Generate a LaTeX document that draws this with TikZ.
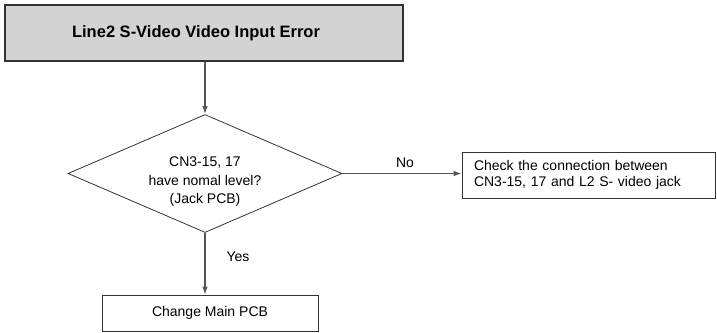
\documentclass[tikz,border=0pt]{standalone}
\usepackage{fontspec}
\setmainfont{Liberation Sans}
\usetikzlibrary{shapes.geometric,arrows.meta}
\definecolor{titlefill}{HTML}{D3D3D3}
\definecolor{edge}{HTML}{333333}
\definecolor{conn}{HTML}{555555}
\begin{document}
\begin{tikzpicture}[x=1pt,y=-1pt,
  titlebox/.style={draw=edge,line width=2pt,fill=titlefill,minimum width=398pt,minimum height=56pt,inner sep=0pt},
  plainbox/.style={draw=edge,line width=0.8pt,inner sep=0pt},
  decision/.style={draw=edge,line width=0.8pt,shape=diamond,minimum width=274pt,minimum height=118pt,inner sep=0pt,aspect=2.32},
  txt/.style={font=\fontsize{14}{18.5}\selectfont,align=center,inner sep=0pt},
  lbl/.style={font=\fontsize{14}{17}\selectfont,inner sep=0pt},
  flow/.style={draw=conn,line width=1.1pt,-{Latex[length=8pt,width=5.5pt]}}
]
\useasboundingbox (0,0) rectangle (717,332);
\node[titlebox] (title) at (204,33) {};
\node[font=\fontsize{16.5}{19}\selectfont\bfseries,inner sep=0pt] (ttext) at (196,33) {Line2 S-Video Video Input Error};
\node[decision] (dia) at (205,173.5) {};
\node[txt] (dtext) at (205,182) {CN3-15, 17\\have nomal level?\\(Jack PCB)};
\node[plainbox,minimum height=46pt,text width=229pt,inner xsep=12pt,align=left,font=\fontsize{14}{16.5}\selectfont] (chk) at (588.5,175) {Check the connection between\\CN3-15, 17 and L2 S- video jack};
\node[plainbox,minimum width=216pt,minimum height=36pt,font=\fontsize{14}{17}\selectfont] (main) at (210,313) {Change Main PCB};
\node[lbl] (no) at (405,163) {No};
\node[lbl] (yes) at (238,257) {Yes};
\draw[flow] (dia.north |- title.south) -- (dia.north);
\draw[flow] (dia.east) -- (dia.east -| chk.west);
\draw[flow] (dia.south) -- (dia.south |- main.north);
\end{tikzpicture}
\end{document}
